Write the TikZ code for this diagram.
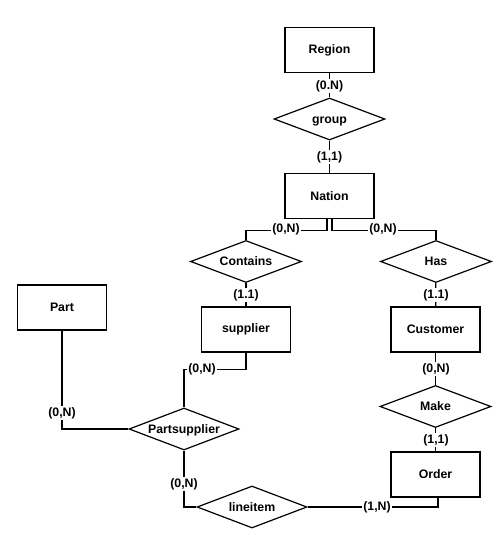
\documentclass[tikz,border=0pt]{standalone}
\usepackage{fontspec}
\setmainfont{Liberation Sans}
\usetikzlibrary{shapes.geometric}

\tikzset{
    entity/.style={draw, line width=1.2pt, minimum width=89pt, minimum height=45pt,
        font=\bfseries\fontsize{12.3}{14}\selectfont},
    relation/.style={draw, diamond, aspect=2.6, line width=1.2pt, minimum width=111pt, minimum height=42pt,
        inner sep=0pt, text height=8pt, text depth=0pt, font=\bfseries\fontsize{12.3}{14}\selectfont},
    card/.style={fill=white, inner sep=1pt, font=\bfseries\fontsize{12.3}{14}\selectfont},
    link/.style={line width=1.2pt},
}

\begin{document}
\begin{tikzpicture}[x=1pt,y=-1pt]
    \useasboundingbox (0,0) rectangle (502,535);

    % The entities
    \node[entity] (region) at (329.5,50) {Region};
    \node[entity] (nation) at (329.5,196) {Nation};
    \node[entity] (supplier) at (246,329.5) {supplier};
    \node[entity] (customer) at (435.5,329.5) {Customer};
    \node[entity] (part) at (62,307.5) {Part};
    \node[entity] (order) at (435.5,474.5) {Order};

    % The relations
    \node[relation] (group) at (329.5,119) {group};
    \node[relation] (contains) at (246,261.5) {Contains};
    \node[relation] (has) at (436,261.5) {Has};
    \node[relation] (make) at (435.5,406.5) {Make};
    \node[relation, minimum width=110pt] (partsupplier) at (184,429) {Partsupplier};
    \node[relation, minimum width=110pt] (lineitem) at (252,507) {lineitem};

    % Connectors
    \draw[link] (region) -- (group);
    \draw[link] (group) -- (nation);
    \draw[link] ([xshift=-2.5pt]nation.south) -- ++(0,11) -| (contains.north);
    \draw[link] ([xshift=2.5pt]nation.south) -- ++(0,11) -| (has.north);
    \draw[link] (contains) -- (supplier);
    \draw[link] (has) -- (customer);
    \draw[link] (customer) -- (make);
    \draw[link] (make) -- (order);
    \draw[link] ([xshift=2.5pt]order.south) |- (lineitem.east);
    \draw[link] (partsupplier.south) |- (lineitem.west);
    \draw[link] (supplier.south) -- ++(0,17) -| (partsupplier.north);
    \draw[link] (part.south) |- (partsupplier.west);

    % Cardinalities
    \node[card] (c1) at (329.5,86) {(0.N)};
    \node[card] (c2) at (329.5,157) {(1,1)};
    \node[card] (c3) at (286,229) {(0,N)};
    \node[card] (c4) at (383,229) {(0,N)};
    \node[card] (c5) at (246,295) {(1.1)};
    \node[card] (c6) at (436,295) {(1.1)};
    \node[card] (c7) at (436,369) {(0,N)};
    \node[card] (c8) at (436,440) {(1,1)};
    \node[card] (c9) at (202,369) {(0,N)};
    \node[card] (c10) at (62,413) {(0,N)};
    \node[card] (c11) at (184,484) {(0,N)};
    \node[card] (c12) at (377,507) {(1,N)};
\end{tikzpicture}
\end{document}
